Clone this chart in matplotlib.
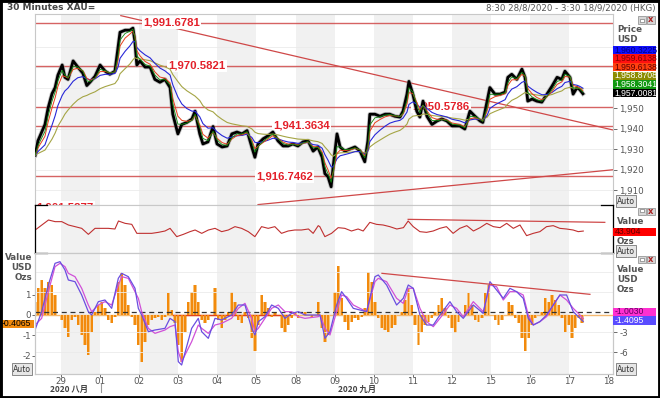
import numpy as np
import pandas as pd
import matplotlib
matplotlib.use("Agg")
import matplotlib.pyplot as plt
from matplotlib.patches import Rectangle
from matplotlib.lines import Line2D

plt.rcParams['axes.unicode_minus'] = False

# ---- data (x in trading-day units: 1 = "29", 2 = "01", ... 15 = "18") ----
day_labels = ['29', '01', '02', '03', '04', '05', '08', '09', '10', '11', '12', '15', '16', '17', '18']

t_price = [0.34, 0.41, 0.59, 0.67, 0.77, 0.85, 0.92, 1.03, 1.10, 1.18, 1.31, 1.43, 1.56, 1.66, 1.74, 1.87,
           2.00, 2.13, 2.25, 2.38, 2.46, 2.51, 2.64, 2.76, 2.84, 2.89, 2.94, 3.02, 3.15, 3.28, 3.40, 3.53,
           3.66, 3.79, 3.86, 3.99, 4.09, 4.22, 4.35, 4.43, 4.55, 4.63, 4.76, 4.89, 4.99, 5.12, 5.25, 5.37,
           5.50, 5.63, 5.76, 5.88, 5.96, 6.04, 6.17, 6.29, 6.42, 6.55, 6.68, 6.81, 6.93, 7.06, 7.19, 7.32,
           7.45, 7.57, 7.68, 7.75, 7.83, 7.91, 7.96, 8.06, 8.14, 8.26, 8.39, 8.52, 8.65, 8.77, 8.85, 8.90,
           9.03, 9.16, 9.29, 9.41, 9.54, 9.67, 9.75, 9.85, 9.90, 10.00, 10.10, 10.18, 10.26, 10.36, 10.49,
           10.62, 10.74, 10.87, 11.00, 11.20, 11.33, 11.46, 11.59, 11.72, 11.79, 11.90, 11.97, 12.10, 12.23,
           12.36, 12.43, 12.53, 12.66, 12.79, 12.87, 12.94, 13.05, 13.17, 13.30, 13.43, 13.56, 13.69, 13.81,
           13.89, 14.02, 14.10, 14.20, 14.27, 14.35]
close = [1927, 1934, 1942, 1950, 1957, 1960, 1966, 1971, 1965, 1964, 1973, 1970, 1967, 1961, 1962.6, 1965.5,
         1971, 1968, 1966.5, 1968, 1979.6, 1987, 1988, 1988, 1989, 1982.5, 1971, 1973, 1970, 1970, 1964, 1962.6,
         1964, 1960, 1947, 1937.4, 1942, 1943, 1944.7, 1948.5, 1937.4, 1932.5, 1933.5, 1941, 1932.5, 1931, 1931.5,
         1937.4, 1938.3, 1937.4, 1939, 1931, 1926, 1932.5, 1935, 1936.4, 1938.3, 1934, 1931.5, 1931.5, 1932.5,
         1931.5, 1933.5, 1934, 1929, 1931, 1926, 1918, 1916.5, 1911.6, 1921, 1937.4, 1931, 1929, 1930, 1931, 1929,
         1923.8, 1934, 1947, 1947, 1946, 1947, 1947, 1946, 1945.6, 1948.5, 1956.8, 1963, 1956.8, 1948.5, 1945.6,
         1953.4, 1946, 1942, 1943.7, 1944.7, 1943.7, 1941.3, 1941.3, 1939.8, 1948.5, 1946, 1943.7, 1943, 1953.4,
         1960, 1956.8, 1956.8, 1957.8, 1965, 1966.5, 1964, 1969, 1965, 1953.4, 1954.4, 1953.4, 1952.9, 1956.8,
         1960.7, 1965, 1964, 1968, 1965, 1956.8, 1960, 1959, 1957.0]

levels = [1991.6781, 1970.5821, 1950.5786, 1941.3634, 1916.7462, 1901.5877]
level_label_x = [3.10, 3.74, 9.98, 6.42, 5.99, 0.36]

# trend lines (start, end)
down_t, down_p = [2.53, 15.12], [1995.1, 1939.3]
up_t, up_p = [6.04, 15.12], [1902.9, 1919.9]

t_rsi = [0.34, 0.51, 0.68, 0.85, 1.02, 1.19, 1.36, 1.53, 1.70, 1.87, 2.04, 2.21, 2.38, 2.47, 2.64, 2.81, 2.94,
         3.15, 3.32, 3.49, 3.66, 3.79, 3.96, 4.13, 4.30, 4.43, 4.60, 4.77, 4.94, 5.11, 5.28, 5.45, 5.62, 5.79,
         5.96, 6.13, 6.30, 6.47, 6.64, 6.81, 6.98, 7.15, 7.33, 7.45, 7.58, 7.62, 7.75, 7.92, 8.09, 8.26, 8.43,
         8.60, 8.73, 8.90, 9.07, 9.24, 9.41, 9.59, 9.76, 9.88, 10.01, 10.18, 10.35, 10.52, 10.69, 10.86, 11.03,
         11.20, 11.38, 11.55, 11.72, 11.89, 12.06, 12.23, 12.40, 12.57, 12.74, 12.91, 13.08, 13.25, 13.42, 13.59,
         13.76, 13.93, 14.10, 14.23, 14.36]
rsi = [46, 56, 66, 62.7, 62.7, 56, 52.7, 49.3, 37.3, 49.3, 49.3, 49.3, 48, 64, 59.3, 57.3, 39.3, 39.3, 39.3, 41.3,
       44, 49.3, 32.7, 37.3, 42.7, 46, 39.3, 46, 49.3, 42.7, 46, 52.7, 49.3, 42.7, 32.7, 52.7, 49.3, 52.7, 39.3,
       44, 46, 46, 48, 39.3, 54.7, 52.7, 32.7, 39.3, 50.7, 49.3, 44, 48, 44, 61.3, 57.3, 56, 52.7, 48, 50.7, 64,
       52.7, 42.7, 41.3, 44, 49.3, 52.7, 39.3, 49.3, 54.7, 44, 50.7, 59.3, 52.7, 50.7, 59.3, 49.3, 56, 34.7, 39.3,
       42.7, 52.7, 54.7, 49.3, 48, 46, 42.7, 43.904]
rsi_trend_t, rsi_trend_v = [9.88, 14.91], [67.3, 61.3]

# histogram, sampled every 0.0853 day from 0.335
hist = [0.66, 1.31, 1.72, 1.31, 1.64, 1.48, 0.98, 0, -0.25, -0.66, -1.07, -0.25, -0.08, -0.49, -0.98, -1.48,
        -1.97, -0.82, 0.16, 0.49, 0.66, 0.33, -0.25, -0.41, -0.08, 1.64, 2.05, 1.48, 0.49, -0.08, -0.49, -1.48,
        -2.30, -1.31, -0.49, -0.25, -0.16, -0.08, -0.25, -0.08, 1.07, 0.25, -0.41, -1.48, -2.30, -0.82, 0.66,
        1.15, 1.48, 0.66, -0.25, -0.41, -0.25, 0, 1.31, -0.25, -0.66, -0.25, 0.16, 1.15, 0.66, -0.25, -0.41,
        0.16, -0.16, -1.15, -1.80, -0.49, 0.98, 0.66, 0.33, -0.08, 0.16, 0, -0.66, -0.82, -0.49, -0.16, 0.16,
        -0.16, 0, 0.16, 0, -0.16, 0, 0.66,
        -0.66, -1.31, -0.98, 0, 1.15, 2.40, 0.82, -0.33, -0.74, -0.33, -0.16, -0.25, -0.08, 0.33, 2.13, 1.64,
        0.66, -0.16, -0.66, -0.74, -0.82, -0.66, -0.49, 0, 0.16, 0.74, 1.31, 0.49, -0.49, -1.48, -0.82, -0.49,
        -0.33, -0.16, 0.16, 0.49, 0.82, 0.33, -0.16, -0.66, -0.90, -0.33, 0, 0.49, 1.07, 0.49, -0.25, -0.33,
        -0.16, 1.07, 1.48, 0, -0.25, -0.49, -0.25, 0, 0.66, 0.49, -0.16, -0.41, -1.15, -1.80, -1.15, -0.49,
        -0.16, 0, 0.16, 0.82, 0.66, 0.98, 0.74, 0.49, -0.16, -0.82, -0.49, -1.15, -0.66, -0.16, -0.4065]
t_hist = 0.335 + 0.0853 * np.arange(len(hist))

t_sig = [0.335, 0.505, 0.676, 0.847, 0.974, 1.102, 1.188, 1.358, 1.529, 1.699, 1.784, 1.955, 2.125, 2.296,
         2.466, 2.552, 2.722, 2.893, 2.978, 3.063, 3.234, 3.404, 3.660, 3.788, 3.916, 4.001, 4.086, 4.342,
         4.512, 4.598, 4.768, 4.939, 5.109, 5.365, 5.535, 5.706, 5.876, 5.962, 6.047, 6.217, 6.388, 6.558,
         6.729, 6.899, 7.070, 7.240, 7.581, 7.624, 7.752, 7.880, 8.050, 8.178, 8.306, 8.477, 8.647, 8.818,
         9.031, 9.116, 9.329, 9.585, 9.755, 9.883, 10.011, 10.182, 10.352, 10.523, 10.693, 10.949, 11.119,
         11.290, 11.546, 11.801, 11.972, 12.142, 12.313, 12.483, 12.654, 12.824, 12.952, 13.080, 13.250,
         13.421, 13.592, 13.762, 13.933, 14.103, 14.274, 14.359]
line_blue = [-2.7, 0.05, 4.05, 7.3, 7.55, 6.3, 4.8, 4.55, 2.55, 0.05, -0.45, 1.55, 1.8, 0.55, 5.05, 5.8, 5.3,
             3.55, 0.55, -0.45, -2.95, -2.7, -2.45, -0.95, -1.45, -7.45, -7.95, -2.45, -0.95, -2.95, -3.95,
             -0.95, -1.2, -0.45, 1.05, 1.05, -2.45, -3.45, -1.45, -0.7, 1.05, 0.55, -0.95, -0.2, 0.05, -0.45,
             -0.45, -0.45, -3.95, -2.95, 1.05, 3.05, 2.05, 0.55, 0.3, 0.05, 5.3, 5.55, 4.05, 1.05, 2.05, 4.05,
             3.55, -0.45, -1.95, -1.95, -0.45, 1.55, 0.05, -0.95, 1.05, -0.2, 4.55, 3.3, 2.05, 3.55, 3.05, 2.05,
             -0.95, -1.95, -1.45, -0.45, 1.05, 2.55, 2.55, 0.05, -0.95, -1.4095]
line_magenta = [-1.95, -0.95, 3.05, 6.8, 7.3, 6.8, 5.8, 5.3, 3.55, 1.05, 0.05, 1.05, 1.55, 1.05, 4.05, 5.3,
                5.05, 3.05, 2.05, 0.05, -2.45, -3.2, -2.7, -2.2, -1.95, -5.95, -7.45, -4.45, -1.95, -2.45, -3.2,
                -1.95, -1.7, -0.95, 0.55, 1.3, -0.95, -2.95, -2.45, -0.95, 0.55, 1.05, 0.05, 0.05, -0.7, -0.95,
                -0.7, -0.45, -2.45, -3.45, 0.05, 2.55, 2.3, 1.05, 0.55, 0.05, 4.55, 5.05, 4.55, 2.05, 1.3, 3.55,
                3.55, 0.55, -1.45, -2.2, -0.95, 1.05, 0.55, -0.7, 1.55, 0.05, 4.05, 3.8, 1.8, 3.05, 3.05, 2.55,
                -0.45, -1.95, -1.45, -0.7, 1.05, 2.55, 1.8, 0.55, -0.45, -1.003]
macd_trend_t, macd_trend_v = [9.21, 14.53], [5.8, 2.65]

ma_labels = ['1,960.3225', '1,959.6138', '1,959.6138', '1,958.8708', '1,958.3041', '1,957.0081']
ma_colors = ['#1010ff', '#ff1010', '#ff4010', '#8c8c00', '#119911', '#000000']
ma_text = ['#000080', '#800000', '#600000', '#ffffff', '#ffffff', '#ffffff']

# moving averages from the close series
s = pd.Series(close)
ma_green = s.ewm(span=2, adjust=False).mean()
ma_red = s.ewm(span=3, adjust=False).mean()
ma_blue = s.ewm(span=7, adjust=False).mean()
ma_olive = s.ewm(span=16, adjust=False).mean()

W, H = 660, 398
fig = plt.figure(figsize=(W / 100, H / 100), dpi=100)
fig.patch.set_facecolor('white')

def fx(px):
    return px / W

def fy(py):
    return 1 - py / H

x0, x1 = 35, 613
ax_p = fig.add_axes([fx(x0), fy(205), (x1 - x0) / W, 191 / H])
ax_r = fig.add_axes([fx(x0), fy(253), (x1 - x0) / W, 48 / H])
ax_m = fig.add_axes([fx(x0), fy(374), (x1 - x0) / W, 121 / H])
ax_m2 = ax_m.twinx()

xlim = (0.335, 15.12)
red_line = '#cf4848'
for ax in (ax_p, ax_r, ax_m, ax_m2):
    ax.set_xlim(*xlim)
    for sp in ax.spines.values():
        sp.set_color('#c8c8c8')
        sp.set_linewidth(0.8)
for ax in (ax_p, ax_r, ax_m):
    for d in range(1, 15, 2):
        ax.axvspan(d, d + 1, color='#f1f1f1', zorder=0, lw=0)

# ---- price panel ----
ax_p.set_ylim(1902.7, 1995.9)
ax_p.yaxis.tick_right()
ax_p.set_yticks([1910, 1920, 1930, 1940, 1950])
ax_p.set_yticklabels(['1,910', '1,920', '1,930', '1,940', '1,950'])
ax_p.tick_params(axis='y', labelsize=6.3, colors='#555555', length=3, width=0.6, pad=1.5)
ax_p.set_xticks([])
for v in [1910, 1920, 1930, 1940, 1960, 1970, 1980]:
    ax_p.axhline(v, color='#ebebeb', lw=0.6, zorder=0.5)
for lv, lx in zip(levels, level_label_x):
    ax_p.axhline(lv, color=red_line, lw=1.0, alpha=0.85, zorder=1)
    ax_p.text(lx, lv, f'{lv:,.4f}', color='#e3202a', fontsize=8.2, fontweight='bold',
              family='Liberation Sans', va='center', ha='left', zorder=2, clip_on=True,
              bbox=dict(boxstyle='square,pad=0.12', fc='white', ec='none'))
ax_p.plot(down_t, down_p, color=red_line, lw=0.9, zorder=1)
ax_p.plot(up_t, up_p, color=red_line, lw=0.9, zorder=1)
ax_p.plot(t_price, close, color='#888888', lw=3.2, alpha=0.5, zorder=2.5)
ax_p.plot(t_price, close, color='black', lw=2.0, zorder=3)
ax_p.plot(t_price, ma_olive, color='#a5a545', lw=0.8, zorder=4)
ax_p.plot(t_price, ma_blue, color='#2828d8', lw=0.8, zorder=4)
ax_p.plot(t_price, ma_red, color='#e8401c', lw=0.7, zorder=4)
ax_p.plot(t_price, ma_green, color='#108a10', lw=0.6, zorder=4)

# ---- RSI-type panel ----
ax_r.set_ylim(0, 96)
ax_r.set_xticks([])
ax_r.set_yticks([])
ax_r.plot(t_rsi, rsi, color='#c03030', lw=0.8)
ax_r.plot(rsi_trend_t, rsi_trend_v, color=red_line, lw=0.9)

# ---- oscillator panel ----
ax_m.set_ylim(-2.91, 3.05)
ax_m2.set_ylim(-9.3, 8.85)
ax_m.bar(t_hist, hist, width=0.0853, color='#f6c27c', lw=0, zorder=2)
ax_m.bar(t_hist, hist, width=0.05, color='#f28a0c', lw=0, zorder=3)
ax_m.axhline(0, color='#f4b870', lw=1.0, zorder=1)
ax_m.plot([3.87, 6.86], [0, 0], color='#e04020', lw=1.0, zorder=2)
ax_m.set_yticks([-2, -1, 0, 1])
ax_m.set_yticklabels(['-2', '-1', '0', '1'])
ax_m.tick_params(axis='y', labelsize=6.3, colors='#555555', length=2, width=0.6, pad=1)
ax_m.set_xticks(range(1, 16))
ax_m.set_xticklabels(day_labels)
ax_m.tick_params(axis='x', labelsize=6.3, colors='#555555', length=2, width=0.6, pad=0.5)
for v in [-6, -3, 3, 6]:
    ax_m2.axhline(v, color='#ebebeb', lw=0.6, zorder=0)
ax_m2.axhline(0, color='#333333', lw=0.9, ls=(0, (4, 3)))
ax_m2.plot(t_sig, line_magenta, color='#d050d8', lw=0.9)
ax_m2.plot(t_sig, line_blue, color='#6a4ee0', lw=0.9)
ax_m2.plot(macd_trend_t, macd_trend_v, color=red_line, lw=0.9)
ax_m2.set_yticks([-3, -6])
ax_m2.tick_params(axis='y', labelsize=6.3, colors='#555555', length=3, width=0.6, pad=1.5)
ax_m.set_zorder(1)
ax_m2.set_zorder(2)

# ---- frame, headers and side labels ----
fig.patches.append(Rectangle((0, 0), 1, 1, transform=fig.transFigure, fill=False,
                             ec='black', lw=3.5, zorder=10))
fig.text(fx(7), fy(8), '30 Minutes XAU=', fontsize=6.5, color='#444444', fontweight='bold',
         va='center', ha='left')
fig.text(fx(655), fy(8), '8:30 28/8/2020 - 3:30 18/9/2020 (HKG)', fontsize=6.2,
         color='#555555', va='center', ha='right')

def side_text(px, py, s, ha='left'):
    fig.text(fx(px), fy(py), s, fontsize=6.3, color='#555555', fontweight='bold',
             va='center', ha=ha)

def value_box(px0, px1, py, s, fc, tc):
    fig.patches.append(Rectangle((fx(px0), fy(py + 4.2)), (px1 - px0) / W, 8.4 / H,
                                 transform=fig.transFigure, fc=fc, ec='none', zorder=5))
    fig.text(fx(px0 + 1.5), fy(py), s, fontsize=6.2, color=tc, family='Liberation Sans',
             va='center', ha='left', zorder=6)

def auto_box(px, py):
    fig.text(fx(px), fy(py), 'Auto', fontsize=5.6, color='#333333', va='center', ha='center',
             bbox=dict(boxstyle='square,pad=0.15', fc='#e6e6e6', ec='#777777', lw=0.6))

def icons(py):
    for px in (638, 647):
        fig.patches.append(Rectangle((fx(px), fy(py + 3.5)), 7.5 / W, 7 / H, transform=fig.transFigure,
                                     fc='#d6d6d6', ec='#888888', lw=0.5, zorder=5))
    fig.patches.append(Rectangle((fx(640), fy(py + 1.5)), 3.5 / W, 3 / H, transform=fig.transFigure,
                                 fc='white', ec='#666666', lw=0.4, zorder=6))
    fig.text(fx(650.8), fy(py), 'x', fontsize=6, color='#aa2222', ha='center', va='center',
             fontweight='bold', zorder=6)

icons(20)
side_text(617, 30, 'Price')
side_text(617, 40, 'USD')
for i, (lab, fc, tc) in enumerate(zip(ma_labels, ma_colors, ma_text)):
    value_box(613, 656, 50 + i * 8.6, lab, fc, tc)
auto_box(626, 201)

icons(211)
side_text(617, 222, 'Value')
value_box(613, 656, 232, '43.904', '#ff0000', '#600000')
side_text(617, 242, 'Ozs')
auto_box(626, 251)

icons(259)
side_text(617, 269, 'Value')
side_text(617, 279, 'USD')
side_text(617, 289, 'Ozs')
value_box(613, 656, 312, '-1.0030', '#ff30d0', '#600060')
value_box(613, 656, 320.5, '-1.4095', '#5a4cff', '#ffffff')
auto_box(626, 369)

side_text(32, 258, 'Value', ha='right')
side_text(32, 268, 'USD', ha='right')
side_text(32, 278, 'Ozs', ha='right')
value_box(0, 34, 324, '-0.4065', '#f28a0c', '#000000')
auto_box(22, 369)

# panel brackets
for yb in (205, 253):
    fig.add_artist(Line2D([fx(35), fx(47)], [fy(yb), fy(yb)], color='black', lw=0.9))
    fig.add_artist(Line2D([fx(601), fx(613)], [fy(yb), fy(yb)], color='black', lw=0.9))
fig.add_artist(Line2D([fx(35), fx(35)], [fy(205), fy(253)], color='black', lw=0.9))
fig.add_artist(Line2D([fx(613), fx(613)], [fy(205), fy(253)], color='black', lw=0.9))

cjk = ['Noto Sans CJK SC', 'DejaVu Sans']
fig.text(fx(50), fy(389.5), '2020 八月', fontsize=6.0, color='#444444', fontweight='bold',
         family=cjk, va='center', ha='left')
fig.text(fx(338), fy(389.5), '2020 九月', fontsize=6.0, color='#444444', fontweight='bold',
         family=cjk, va='center', ha='left')
fig.add_artist(Line2D([fx(101), fx(101)], [fy(384), fy(392)], color='#999999', lw=0.8))

fig.savefig('out.png', dpi=100)
